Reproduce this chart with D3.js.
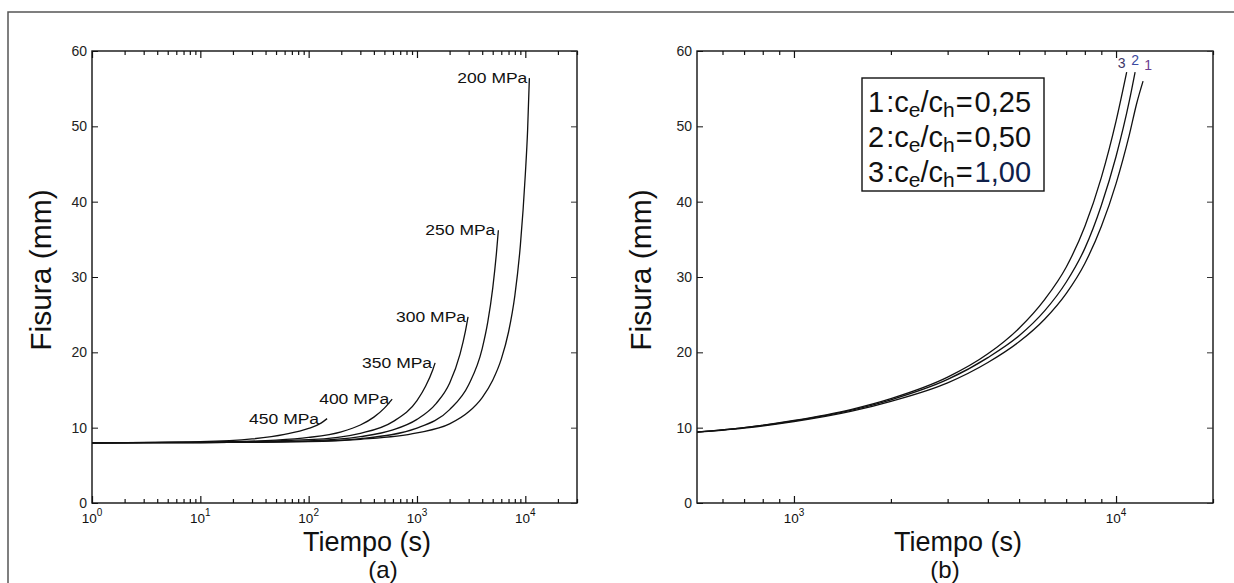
<!DOCTYPE html>
<html>
<head>
<meta charset="utf-8">
<script src="https://cdn.jsdelivr.net/npm/d3@7"></script>
<style>
  body { margin: 0; background: #fff; }
  text { font-family: "Liberation Sans", Arial, sans-serif; fill: #111; }
</style>
</head>
<body>
<svg id="chart" width="1234" height="583"></svg>
<script>
// ---- data: [tiempo (s), fisura (mm)] ----
const stressLabels = ['450 MPa', '400 MPa', '350 MPa', '300 MPa', '250 MPa', '200 MPa'];
const curve450 = [[1, 8], [10, 8.15], [30, 8.5], [60, 9.1], [100, 9.9], [130, 10.6], [148, 11.2]];
const curve400 = [[1, 8], [10, 8.07], [50, 8.35], [100, 8.7], [200, 9.45], [300, 10.35], [400, 11.4], [500, 12.6], [590, 13.8]];
const curve350 = [[1, 8], [10, 8.04], [100, 8.4], [300, 9.25], [600, 10.8], [1000, 13.6], [1200, 15.5], [1400, 17.7], [1470, 18.6]];
const curve300 = [[1, 8], [10, 8.02], [100, 8.25], [300, 8.8], [600, 9.7], [1000, 11.1], [1500, 13.2], [2000, 15.9], [2500, 19.8], [2800, 22.8], [2960, 24.7]];
const curve250 = [[1, 8], [10, 8.02], [100, 8.18], [300, 8.55], [1000, 9.95], [2000, 12.4], [3000, 15.7], [4000, 20.5], [4500, 24], [5000, 28.5], [5400, 33], [5640, 36.2]];
const curve200 = [[1, 8], [10, 8.02], [100, 8.15], [300, 8.45], [1000, 9.3], [2000, 10.5], [3000, 12.1], [4000, 14], [5000, 16.3], [6000, 19.1], [7000, 22.7], [8000, 27.5], [9000, 34.2], [10000, 43.6], [10500, 49.5], [10900, 56.4]];

const ratioNames = ['1', '2', '3'];
const ratioValues = ['0,25', '0,50', '1,00'];
const ratioColors = ['#6b3d8f', '#3b4aa0', '#3d3566'];
const ratio1 = [[500, 9.4], [700, 9.95], [1000, 10.8], [1500, 12.15], [2000, 13.5], [3000, 15.95], [4000, 18.65], [5000, 21.4], [6000, 24.4], [7000, 27.8], [8000, 31.8], [9000, 36.7], [10000, 42.4], [11000, 48.9], [11600, 53.1], [12130, 56]];
const ratio2 = [[500, 9.4], [700, 10], [1000, 10.9], [1500, 12.3], [2000, 13.7], [3000, 16.4], [4000, 19.3], [5000, 22.2], [6000, 25.5], [7000, 29.3], [8000, 33.8], [9000, 39.5], [10000, 46], [11000, 53.4], [11460, 57.2]];
const ratio3 = [[500, 9.4], [700, 10], [1000, 10.95], [1500, 12.4], [2000, 13.85], [3000, 16.7], [4000, 19.8], [5000, 23.2], [6000, 27], [7000, 31.3], [8000, 36.7], [9000, 43.2], [10000, 50.7], [10790, 57.2]];

const yTicks = [0, 10, 20, 30, 40, 50, 60];
const leftDecades = [0, 1, 2, 3, 4];
const rightDecades = [3, 4];

const svg = d3.select('#chart');

// outer frame of the figure
svg.append('path')
  .attr('d', 'M8,583 L8,12 L1234,12')
  .style('fill', 'none')
  .style('stroke', '#555')
  .style('stroke-width', 1.5);

function minorTicks(domain) {
  const out = [];
  for (let e = -1; e <= 5; e++) {
    for (let k = 2; k <= 9; k++) {
      const v = k * Math.pow(10, e);
      if (v > domain[0] && v <= domain[1]) out.push(v);
    }
  }
  return out;
}

function drawPanel(cfg) {
  const x = d3.scaleLog().domain(cfg.domain).range([cfg.left, cfg.right]);
  const y = d3.scaleLinear().domain([0, 60]).range([cfg.bottom, cfg.top]);
  const g = svg.append('g');

  const majors = cfg.decades.map(d => Math.pow(10, d));
  const minors = minorTicks(cfg.domain).filter(v => majors.indexOf(v) < 0);

  // frame
  g.append('rect')
    .attr('x', cfg.left).attr('y', cfg.top)
    .attr('width', cfg.right - cfg.left).attr('height', cfg.bottom - cfg.top)
    .style('fill', 'none').style('stroke', '#111').style('stroke-width', 1.4);

  // x ticks, bottom and top, pointing inward
  [[d3.axisBottom, cfg.bottom], [d3.axisTop, cfg.top]].forEach(([ax, pos]) => {
    g.append('g').attr('transform', `translate(0,${pos})`)
      .call(ax(x).tickValues(majors).tickSize(-7).tickFormat(''))
      .call(s => s.select('.domain').remove());
    g.append('g').attr('transform', `translate(0,${pos})`)
      .call(ax(x).tickValues(minors).tickSize(-4).tickFormat(''))
      .call(s => s.select('.domain').remove());
  });
  g.selectAll('.tick line').style('stroke', '#111').style('stroke-width', 1.2);

  // x labels 10^n
  const xl = g.selectAll('.xlab')
    .data(cfg.decades)
    .enter().append('text')
    .attr('x', d => x(Math.pow(10, d)))
    .attr('y', cfg.bottom + 20)
    .style('font-size', '13.5px')
    .style('text-anchor', 'middle');
  xl.append('tspan').text('10');
  xl.append('tspan').attr('dy', -7).style('font-size', '10px').text(d => d);

  // y axis left with labels, right ticks only
  g.append('g').attr('transform', `translate(${cfg.left},0)`)
    .call(d3.axisLeft(y).tickValues(yTicks).tickSize(-6).tickPadding(5))
    .call(s => s.select('.domain').remove())
    .call(s => s.selectAll('text').style('font-size', '14px').style('font-family', '"Liberation Sans", Arial, sans-serif').style('fill', '#222'))
    .call(s => s.selectAll('line').style('stroke', '#111'));
  g.append('g').attr('transform', `translate(${cfg.right},0)`)
    .call(d3.axisRight(y).tickValues(yTicks).tickSize(-6).tickFormat(''))
    .call(s => s.select('.domain').remove())
    .call(s => s.selectAll('line').style('stroke', '#333'));

  // axis titles
  g.append('text')
    .attr('transform', `translate(${cfg.left - cfg.titleOffset},270) rotate(-90)`)
    .style('text-anchor', 'middle')
    .style('font-size', '30px')
    .text('Fisura (mm)');
  g.append('text')
    .attr('x', cfg.titleX).attr('y', 550.5)
    .style('text-anchor', 'middle')
    .style('font-size', '27px')
    .text('Tiempo (s)');
  g.append('text')
    .attr('x', cfg.tagX).attr('y', 578)
    .style('text-anchor', 'middle')
    .style('font-size', '24px')
    .text(cfg.tag);

  const line = d3.line()
    .x(d => x(d[0]))
    .y(d => y(d[1]))
    .curve(d3.curveMonotoneX);

  g.selectAll('.curve')
    .data(cfg.series)
    .enter().append('path')
    .attr('d', d => line(d.values))
    .style('fill', 'none')
    .style('stroke', '#111')
    .style('stroke-width', 1.3);

  return { g, x, y };
}

// ---- panel (a) ----
const pa = drawPanel({
  left: 92, right: 577, top: 51, bottom: 503,
  domain: [1, 30000], decades: leftDecades,
  titleX: 367, tagX: 383, tag: '(a)', titleOffset: 41,
  series: [curve450, curve400, curve350, curve300, curve250, curve200].map((v, i) => ({ name: stressLabels[i], values: v }))
});

const labelGap = [8, 3, 3, 2, 3, 2];
pa.g.selectAll('.slab')
  .data([curve450, curve400, curve350, curve300, curve250, curve200])
  .enter().append('text')
  .attr('x', (d, i) => pa.x(d[d.length - 1][0]) - labelGap[i])
  .attr('y', d => pa.y(d[d.length - 1][1]) + 5)
  .attr('textLength', 70)
  .attr('lengthAdjust', 'spacingAndGlyphs')
  .style('text-anchor', 'end')
  .style('font-size', '15.5px')
  .text((d, i) => stressLabels[i]);

// ---- panel (b) ----
const pb = drawPanel({
  left: 697, right: 1213, top: 51, bottom: 503,
  domain: [500, 20000], decades: rightDecades,
  titleX: 958, tagX: 945, tag: '(b)', titleOffset: 46,
  series: [ratio1, ratio2, ratio3].map((v, i) => ({ name: ratioNames[i], values: v }))
});

// curve numbers
const numOffset = [[5, -11], [0, -7], [-5, -4]];
pb.g.selectAll('.rlab')
  .data([ratio1, ratio2, ratio3])
  .enter().append('text')
  .attr('x', (d, i) => pb.x(d[d.length - 1][0]) + numOffset[i][0])
  .attr('y', (d, i) => pb.y(d[d.length - 1][1]) + numOffset[i][1])
  .style('text-anchor', 'middle')
  .style('font-size', '14px')
  .style('fill', (d, i) => ratioColors[i])
  .text((d, i) => ratioNames[i]);

// legend box
const lg = pb.g.append('g').attr('transform', 'translate(862,78)');
lg.append('rect')
  .attr('width', 182).attr('height', 113)
  .style('fill', '#fff').style('stroke', '#111').style('stroke-width', 1.4);
const rows = lg.selectAll('.row')
  .data(ratioNames)
  .enter().append('text')
  .attr('x', 6)
  .attr('y', (d, i) => 34 + i * 35)
  .style('font-size', '29px');
rows.append('tspan').text(d => d);
rows.append('tspan').attr('dx', 2).text(':c');
rows.append('tspan').attr('dy', 5).style('font-size', '21px').text('e');
rows.append('tspan').attr('dy', -5).text('/c');
rows.append('tspan').attr('dy', 5).style('font-size', '21px').text('h');
rows.append('tspan').attr('dy', -5).attr('dx', 1).text('=');
rows.append('tspan').attr('dx', 2).style('fill', (d, i) => i === 2 ? '#10204a' : '#111').text((d, i) => ratioValues[i]);
</script>
</body>
</html>
